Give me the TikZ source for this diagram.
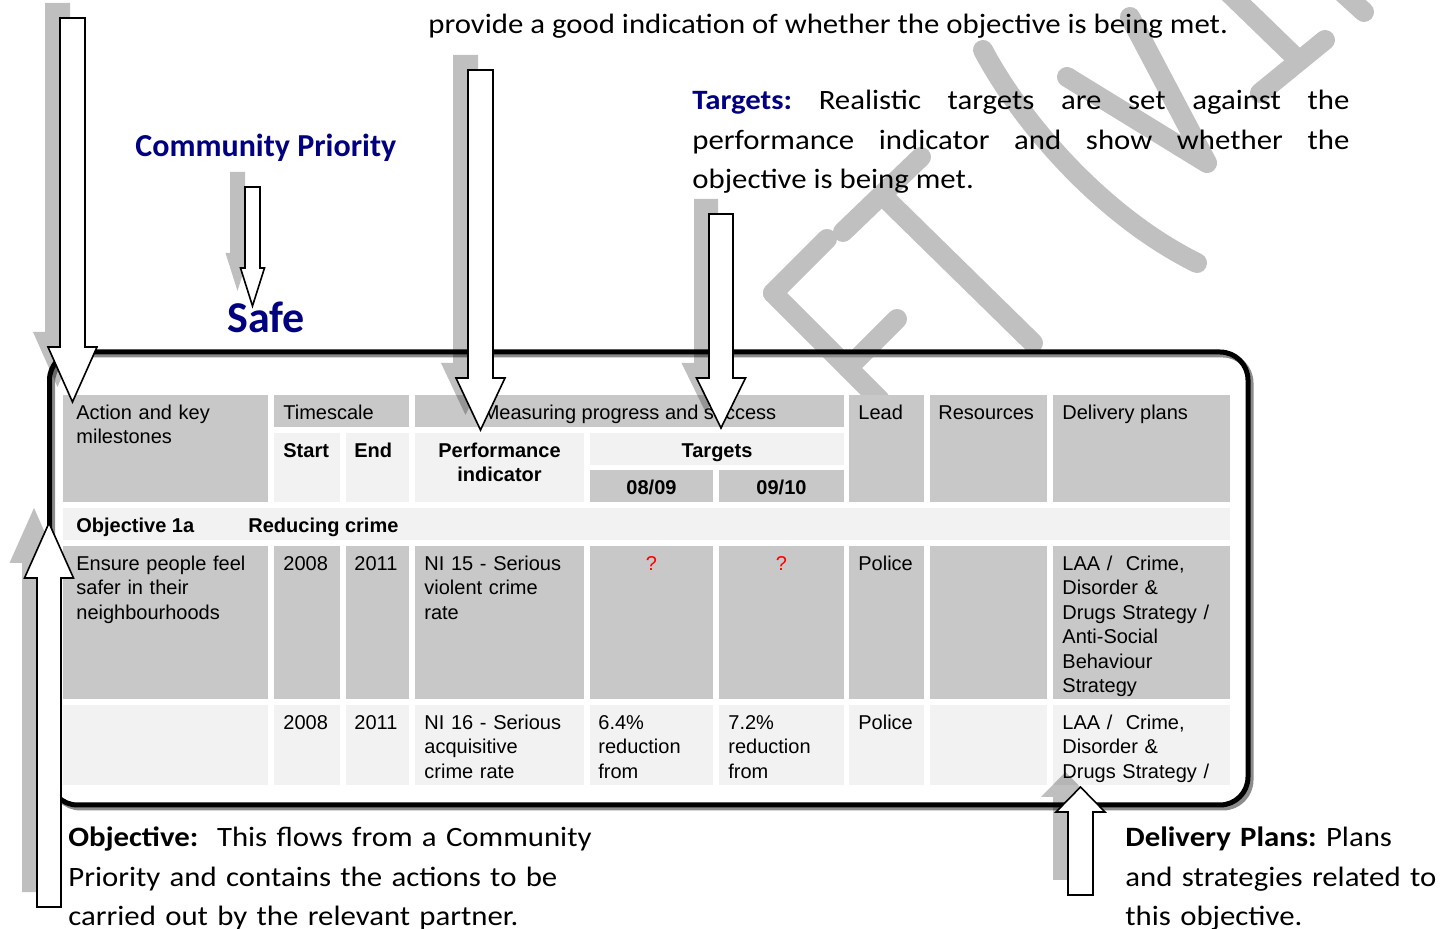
\documentclass[tikz,border=0pt]{standalone}
\usepackage{fontspec}
\setmainfont{Carlito}
\newfontfamily\notefont{Carlito}[FakeStretch=1.1]
\newfontfamily\arialfont{Liberation Sans}
\usetikzlibrary{calc}

\definecolor{navytext}{RGB}{0,0,128}
\definecolor{cellgray}{RGB}{200,200,200}
\definecolor{celllight}{RGB}{242,242,242}
\definecolor{watermark}{RGB}{192,192,192}

\newcommand{\tabfont}{\arialfont\fontsize{10pt}{12.25pt}\selectfont}
\newcommand{\tabcell}[5]{\fill[#1] (#2,#3) rectangle (#4,#5);}
% outline of a block arrow: tail, tip, head length, shaft half width, head half width, shift x, shift y
\newcommand{\arrowpath}[7]{($(#1)+(#6-#4,#7)$) -- ($(#1)+(#6+#4,#7)$)
  -- ($(#2)!#3!(#1)+(#6+#4,#7)$) -- ($(#2)!#3!(#1)+(#6+#5,#7)$) -- ($(#2)+(#6,#7)$)
  -- ($(#2)!#3!(#1)+(#6-#5,#7)$) -- ($(#2)!#3!(#1)+(#6-#4,#7)$) -- cycle}
\newcommand{\blockarrow}[5]{%
  \fill[arrowshadow] \arrowpath{#1}{#2}{#3}{#4}{#5}{-15}{-15};
  \filldraw[arrowbody] \arrowpath{#1}{#2}{#3}{#4}{#5}{0}{0};
}

\begin{document}
\begin{tikzpicture}[x=0.5pt,y=-0.5pt]
\tikzset{
    wm/.style={draw=watermark, line width=10pt, line cap=round, line join=round},
    note/.style={font=\notefont\fontsize{14pt}{19.75pt}\selectfont\frenchspacing, anchor=base west, inner sep=0pt},
    tabtext/.style={font=\tabfont, anchor=base west, inner sep=0pt},
    tabbold/.style={font=\tabfont\bfseries, anchor=base west, inner sep=0pt},
    tabblock/.style={tabtext, text width=100pt, align=left},
    arrowbody/.style={fill=white, draw=black, line width=0.8pt},
    arrowshadow/.style={fill=black, fill opacity=0.25}
}
\useasboundingbox (0,0) rectangle (1446,929);
\clip (0,0) rectangle (1446,929);

% watermark
\draw[wm] (773,293) -- (880,400);
\draw[wm] (773,293) -- (827,239);
\draw[wm] (848,368) -- (897,319);
\draw[wm] (843,232) -- (921,157);
\draw[wm] (882,195) -- (1033,343);
\draw[wm] (983,50) .. controls (1020,120) and (1100,215) .. (1197,263);
\draw[wm] (1067,77) -- (1207,163) -- (1130,17);
\draw[wm] (1228,-8) -- (1293,55);
\draw[wm] (1260,93) -- (1325,40);
\draw[wm] (1342,-8) -- (1364,12);

% frame
\draw[black!45, line width=2.5pt, rounded corners=14pt] (52.5,355) rectangle (1251,808);
\draw[line width=2.5pt, rounded corners=14pt] (49.5,352) rectangle (1248,805);

% table cells
\tabcell{cellgray}{63}{395}{268}{502}
\tabcell{cellgray}{274}{395}{409}{427}
\tabcell{cellgray}{415}{395}{844}{427}
\tabcell{cellgray}{849}{395}{924}{502}
\tabcell{cellgray}{930}{395}{1047}{502}
\tabcell{cellgray}{1053}{395}{1230}{502}
\tabcell{celllight}{274}{433}{340}{502}
\tabcell{celllight}{346}{433}{409}{502}
\tabcell{celllight}{415}{433}{584}{502}
\tabcell{celllight}{590}{433}{844}{465}
\tabcell{cellgray}{590}{470}{713}{502}
\tabcell{cellgray}{719}{470}{844}{502}
\tabcell{celllight}{63}{508}{1230}{540}
\foreach \xa/\xb in {63/268,274/340,346/409,415/584,590/713,719/844,849/924,930/1047,1053/1230}{
    \tabcell{cellgray}{\xa}{546}{\xb}{699}
    \tabcell{celllight}{\xa}{705}{\xb}{785}
}

% table text
\node[tabblock] (tAction) at (76,419.5) {Action and key\\milestones};
\node[tabtext] (tTime) at (283,419.5) {Timescale};
\node[tabtext, anchor=base] (tMeasure) at (629.5,419.5) {Measuring progress and success};
\node[tabtext] (tLead) at (858,419.5) {Lead};
\node[tabtext] (tRes) at (938,419.5) {Resources};
\node[tabtext] (tDel) at (1062,419.5) {Delivery plans};
\node[tabbold] (tStart) at (283,457.5) {Start};
\node[tabbold] (tEnd) at (354,457.5) {End};
\node[tabbold, anchor=base, text width=80pt, align=center] (tPI) at (499.5,457.5) {Performance\\indicator};
\node[tabbold, anchor=base] (tTargets) at (717,457.5) {Targets};
\node[tabbold, anchor=base] (tYearA) at (651.5,495) {08/09};
\node[tabbold, anchor=base] (tYearB) at (781.5,495) {09/10};
\node[tabbold] (tObj) at (76,532.5) {Objective 1a};
\node[tabbold] (tCrime) at (248,532.5) {Reducing crime};

\node[tabblock] (rowA) at (76,570.5) {Ensure people feel\\safer in their\\neighbourhoods};
\node[tabtext] (rowAstart) at (283,570.5) {2008};
\node[tabtext] (rowAend) at (354,570.5) {2011};
\node[tabblock] (rowApi) at (424,570.5) {NI 15 - Serious\\violent crime\\rate};
\node[tabtext, anchor=base, text=red] (rowAt1) at (651.5,570.5) {?};
\node[tabtext, anchor=base, text=red] (rowAt2) at (781.5,570.5) {?};
\node[tabtext] (rowAlead) at (858,570.5) {Police};
\node[tabblock] (rowAdel) at (1062,570.5) {LAA /\ \ Crime,\\Disorder \&\\Drugs Strategy /\\Anti-Social\\Behaviour\\Strategy};

\node[tabtext] (rowBstart) at (283,729.5) {2008};
\node[tabtext] (rowBend) at (354,729.5) {2011};
\node[tabblock] (rowBpi) at (424,729.5) {NI 16 - Serious\\acquisitive\\crime rate};
\node[tabblock] (rowBt1) at (598,729.5) {6.4\%\\reduction\\from};
\node[tabblock] (rowBt2) at (728,729.5) {7.2\%\\reduction\\from};
\node[tabtext] (rowBlead) at (858,729.5) {Police};
\node[tabblock] (rowBdel) at (1062,729.5) {LAA /\ \ Crime,\\Disorder \&\\Drugs Strategy /};

% notes
\node[note] (indication) at (428,34) {provide a good indication of whether the objective is being met.};
\node[note, text width=328.5pt, align=justify] (targets) at (692,110) {\textcolor{navytext}{\textbf{Targets:}} Realistic targets are set against the\linebreak performance indicator and show whether the\linebreak objective is being met.};
\node[note, font=\fontsize{16pt}{19pt}\selectfont\bfseries, text=navytext] (priority) at (135,157) {Community Priority};
\node[note, font=\fontsize{22pt}{26pt}\selectfont\bfseries, text=navytext] (safe) at (227,333) {Safe};
\node[note, text width=300pt, align=left] (objective) at (68,847) {\textbf{Objective:}\ \ This flows from a Community\\Priority and contains the actions to be\\carried out by the relevant partner.};
\node[note, text width=170pt, align=left] (delivery) at (1125,847) {\textbf{Delivery Plans:} Plans\\and strategies related to\\this objective.};

% block arrows
\coordinate (actTail) at (72.5,18);   \coordinate (actTip) at (72.5,402);
\coordinate (cpTail) at (252.5,187);  \coordinate (cpTip) at (252.5,306);
\coordinate (piTail) at (480.5,70);   \coordinate (piTip) at (480.5,430);
\coordinate (tgTail) at (721,214);    \coordinate (tgTip) at (721,428);
\coordinate (obTail) at (49,907);     \coordinate (obTip) at (49,523);
\coordinate (dpTail) at (1080.5,895); \coordinate (dpTip) at (1080.5,787);
\blockarrow{actTail}{actTip}{27.5pt}{12.5}{24.5}
\blockarrow{cpTail}{cpTip}{19pt}{7.5}{12}
\blockarrow{piTail}{piTip}{26pt}{12.5}{24.5}
\blockarrow{tgTail}{tgTip}{25pt}{12}{24.5}
\blockarrow{obTail}{obTip}{27.5pt}{12}{24.5}
\blockarrow{dpTail}{dpTip}{12.5pt}{12.5}{24.5}
\end{tikzpicture}
\end{document}
